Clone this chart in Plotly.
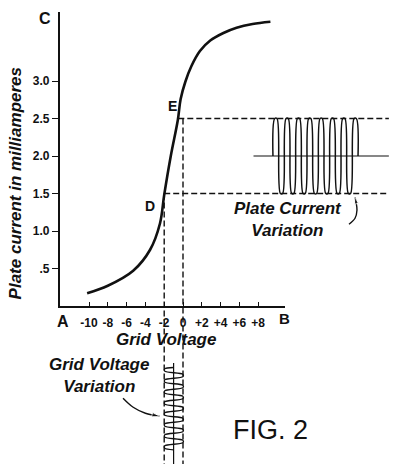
import plotly.graph_objects as go

# characteristic curve (grid volts, plate mA)
grid_volts = [-10.2, -8.0, -5.3, -3.5, -2.45, -2.0, -1.3, -0.55, -0.25, 0.25, 0.9, 1.8, 2.9, 4.3, 5.7, 7.4, 9.3]
plate_ma = [0.17, 0.27, 0.47, 0.75, 1.1, 1.48, 2.0, 2.48, 2.76, 2.99, 3.2, 3.4, 3.54, 3.64, 3.71, 3.76, 3.79]

y_ticks = [0.5, 1.0, 1.5, 2.0, 2.5, 3.0]
y_ticktext = ['.5', '1.0', '1.5', '2.0', '2.5', '3.0']
x_ticks = [-10, -8, -6, -4, -2, 0, 2, 4, 6, 8]
x_ticktext = ['-10', '-8', '-6', '-4', '-2', '0', '+2', '+4', '+6', '+8']

# operating swing: D and E
point_d = (-2.0, 1.5)
point_e = (0.0, 2.5)

# plate current variation wave (x = position to the right, mA); loops drawn with round caps
plate_wave_x = [9.57, 9.76, 10.00, 10.36, 10.60, 10.96, 11.20, 11.56, 11.80, 12.17, 12.41,
                12.77, 13.01, 13.37, 13.61, 13.98, 14.22, 14.58, 14.82, 15.18, 15.42,
                15.78, 16.02, 16.39, 16.63, 16.99, 17.23, 17.59, 17.83, 18.20, 18.44, 18.62]
plate_wave_ma = [2.0, 2.5, 2.5, 1.5, 1.5, 2.5, 2.5, 1.5, 1.5, 2.5, 2.5,
                 1.5, 1.5, 2.5, 2.5, 1.5, 1.5, 2.5, 2.5, 1.5, 1.5,
                 2.5, 2.5, 1.5, 1.5, 2.5, 2.5, 1.5, 1.5, 2.5, 2.5, 2.0]

# grid voltage variation wave (volts, position downwards)
grid_wave_v = [-1.0, -1.95, -1.95, 0.0, 0.0, -1.95, -1.95, 0.0, 0.0, -1.95, -1.95,
               0.0, 0.0, -1.95, -1.95, 0.0, 0.0, -1.95, -1.95, 0.0, 0.0,
               -1.95, -1.95, 0.0, 0.0, -1.95, -1.95, 0.0, 0.0, -1.95, -1.95, -1.0]
grid_wave_t = [-0.82, -0.838, -0.868, -0.912, -0.942, -0.985, -1.015, -1.058, -1.088, -1.132, -1.162,
               -1.205, -1.235, -1.278, -1.308, -1.352, -1.382, -1.425, -1.455, -1.498, -1.528,
               -1.572, -1.602, -1.645, -1.675, -1.718, -1.748, -1.792, -1.822, -1.865, -1.895, -1.917]

INK = '#111111'
HAND = dict(family='Liberation Sans', style='italic', weight='bold', color=INK)

fig = go.Figure()

# Curva característica
fig.add_trace(go.Scatter(x=grid_volts, y=plate_ma, mode='lines',
                         line=dict(color=INK, width=2.6, shape='spline', smoothing=1.0),
                         xaxis='x', yaxis='y', hoverinfo='skip'))

bottom = -2.12
right_end = 21.9
dash = dict(color=INK, width=1.4, dash='6px,3px')

# linhas tracejadas de D e E
fig.add_trace(go.Scatter(x=[point_e[0] - 0.5, right_end], y=[point_e[1]] * 2, mode='lines',
                         line=dash, xaxis='x2', yaxis='y2', hoverinfo='skip'))
fig.add_trace(go.Scatter(x=[point_d[0], right_end], y=[point_d[1]] * 2, mode='lines',
                         line=dash, xaxis='x2', yaxis='y2', hoverinfo='skip'))
fig.add_trace(go.Scatter(x=[point_d[0]] * 2, y=[point_d[1], bottom], mode='lines',
                         line=dash, xaxis='x2', yaxis='y2', hoverinfo='skip'))
fig.add_trace(go.Scatter(x=[point_e[0]] * 2, y=[point_e[1], bottom], mode='lines',
                         line=dash, xaxis='x2', yaxis='y2', hoverinfo='skip'))

# linha central da corrente de placa
mid_ma = (point_d[1] + point_e[1]) / 2
fig.add_trace(go.Scatter(x=[7.5, right_end], y=[mid_ma] * 2, mode='lines',
                         line=dict(color=INK, width=1.2), xaxis='x2', yaxis='y2', hoverinfo='skip'))
fig.add_trace(go.Scatter(x=plate_wave_x, y=plate_wave_ma, mode='lines',
                         line=dict(color=INK, width=1.5, shape='spline', smoothing=1.0),
                         xaxis='x2', yaxis='y2', hoverinfo='skip'))

# linha central da tensão de grade
mid_v = (point_d[0] + point_e[0]) / 2
fig.add_trace(go.Scatter(x=[mid_v] * 2, y=[-0.76, bottom], mode='lines',
                         line=dict(color=INK, width=1.2), xaxis='x2', yaxis='y2', hoverinfo='skip'))
fig.add_trace(go.Scatter(x=grid_wave_v, y=grid_wave_t, mode='lines',
                         line=dict(color=INK, width=1.3, shape='spline', smoothing=1.0),
                         xaxis='x2', yaxis='y2', hoverinfo='skip'))

# setas curvas
fig.add_trace(go.Scatter(x=[-6.38, -5.3, -4.0, -2.5], y=[-1.23, -1.35, -1.43, -1.47],
                         mode='lines+markers', line=dict(color=INK, width=1.4, shape='spline'),
                         marker=dict(symbol='arrow', angleref='previous', size=[0, 0, 0, 8], color=INK),
                         xaxis='x2', yaxis='y2', hoverinfo='skip'))
fig.add_trace(go.Scatter(x=[17.66, 18.3, 18.51, 18.4, 18.3], y=[1.09, 1.17, 1.28, 1.39, 1.45],
                         mode='lines+markers', line=dict(color=INK, width=1.4, shape='spline'),
                         marker=dict(symbol='arrow', angleref='previous', size=[0, 0, 0, 0, 7], color=INK),
                         xaxis='x2', yaxis='y2', hoverinfo='skip'))

labels = [
    ('C', -14.68, 3.84, 16),
    ('A', -12.77, -0.21, 16),
    ('B', 10.85, -0.17, 15),
    ('D', -3.51, 1.33, 14),
    ('E', -1.17, 2.67, 14),
]
annotations = []
for txt, x, y, size in labels:
    annotations.append(dict(text=txt, x=x, y=y, xref='x2', yref='y2', showarrow=False,
                            font=dict(family='Liberation Sans', size=size, color=INK, weight='bold')))
annotations += [
    dict(text='Plate current in milliamperes', x=-17.8, y=1.63, xref='x2', yref='y2',
         showarrow=False, textangle=-90, font=dict(size=17, **HAND)),
    dict(text='Grid Voltage', x=-1.81, y=-0.45, xref='x2', yref='y2',
         showarrow=False, font=dict(size=17, **HAND)),
    dict(text='Grid Voltage<br>Variation', x=-8.94, y=-0.93, xref='x2', yref='y2',
         showarrow=False, font=dict(size=17, **HAND)),
    dict(text='Plate Current<br>Variation', x=11.17, y=1.16, xref='x2', yref='y2',
         showarrow=False, font=dict(size=17, **HAND)),
    dict(text='FIG. 2', x=9.26, y=-1.65, xref='x2', yref='y2', showarrow=False,
         font=dict(family='Liberation Sans', size=27, color=INK)),
]

fig.update_layout(
    width=397, height=464,
    margin=dict(l=0, r=0, t=0, b=0),
    paper_bgcolor='white',
    plot_bgcolor='rgba(0,0,0,0)',
    showlegend=False,
    annotations=annotations,
    xaxis=dict(domain=[60 / 397, 285 / 397], range=[-123 / 9.4, 102 / 9.4],
               showgrid=False, zeroline=False, showline=True, linecolor=INK, linewidth=1.6,
               ticks='inside', ticklen=4, tickwidth=1.4, tickcolor=INK,
               tickvals=x_ticks, ticktext=x_ticktext, ticklabelstandoff=5,
               tickfont=dict(family='Liberation Sans', size=12, color=INK, weight='bold'),
               fixedrange=True),
    yaxis=dict(domain=[158 / 464, 452 / 464], range=[0, 294 / 75],
               showgrid=False, zeroline=False, showline=True, linecolor=INK, linewidth=2.4,
               ticks='outside', ticklen=6, tickwidth=1.4, tickcolor=INK,
               tickvals=y_ticks, ticktext=y_ticktext,
               tickfont=dict(family='Liberation Sans', size=12, color=INK, weight='bold'),
               fixedrange=True),
    xaxis2=dict(domain=[0, 1], range=[-183 / 9.4, 214 / 9.4], visible=False, anchor='y2',
                fixedrange=True),
    yaxis2=dict(domain=[0, 1], range=[-158 / 75, 306 / 75], visible=False, anchor='x2',
                fixedrange=True),
)

# tira a margem padrão do body para o gráfico encostar no canto
fig.write_html("out.html", config={'displayModeBar': False},
               post_script="document.body.style.margin='0';")
